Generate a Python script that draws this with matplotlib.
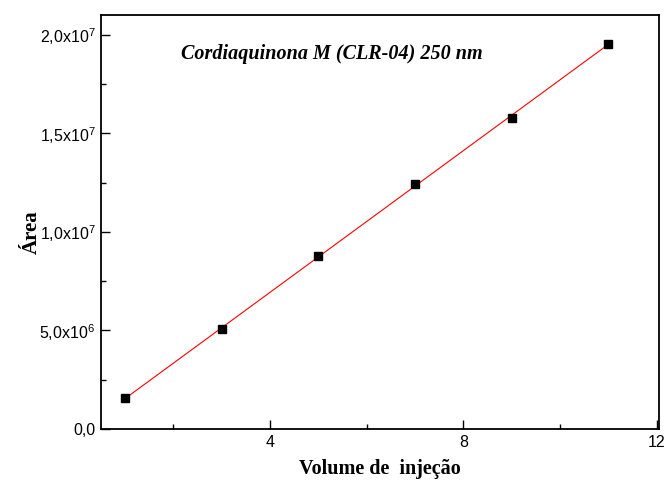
import numpy as np
import matplotlib
matplotlib.use("Agg")
import matplotlib.pyplot as plt
from matplotlib.ticker import FixedLocator, FuncFormatter

# dados
volume = [1, 3, 5, 7, 9, 11]
area = [1.58e6, 5.05e6, 8.76e6, 12.44e6, 15.78e6, 19.55e6]
titulo = "Cordiaquinona M (CLR-04) 250 nm"

plt.rcParams['mathtext.fontset'] = 'custom'
plt.rcParams['mathtext.rm'] = 'Liberation Sans'
plt.rcParams['mathtext.it'] = 'Liberation Sans:italic'

fig = plt.figure(figsize=(6.68, 4.8), dpi=100)
ax = fig.add_axes([101/668, 1-429/480, 558/668, 414/480])

# ajuste linear
a, b = np.polyfit(volume, area, 1)
xf = np.array([volume[0], volume[-1]])
ax.plot(xf, a*xf + b, color='red', lw=0.8, zorder=2)
ax.plot(volume, area, 's', color='black', ms=6.2, zorder=3)

ax.set_xlim(0.5, 12.05)
ax.set_ylim(0, 2.1e7)
ax.xaxis.set_major_locator(FixedLocator([4, 8, 12]))
ax.xaxis.set_minor_locator(FixedLocator([2, 6, 10]))
ax.yaxis.set_major_locator(FixedLocator([0, 5e6, 1e7, 1.5e7, 2e7]))
ax.yaxis.set_minor_locator(FixedLocator([2.5e6, 7.5e6, 1.25e7, 1.75e7]))

def fmt_y(v, pos):
    if v == 0:
        return "0,0"
    e = int(np.floor(np.log10(v)))
    m = v / 10**e
    return ("%.1f" % m).replace(".", ",") + r"x10$^{%d}$" % e

ax.yaxis.set_major_formatter(FuncFormatter(fmt_y))
ax.tick_params(which='major', direction='in', length=6.5, width=1, labelsize=11.5, pad=4)
ax.tick_params(which='minor', direction='in', length=3.5, width=1)
for lab in ax.get_xticklabels() + ax.get_yticklabels():
    lab.set_family('Liberation Sans')
for s in ax.spines.values():
    s.set_linewidth(1.3)

ax.set_xlabel("Volume de  injeção", family='Liberation Serif', fontweight='bold', fontsize=14.5, labelpad=7)
ax.set_ylabel("Área", family='Liberation Serif', fontweight='bold', fontsize=15)
ax.yaxis.set_label_coords(-0.106, 0.476)
ax.text(0.414, 0.906, titulo, transform=ax.transAxes, ha='center', va='center',
        family='Liberation Serif', style='italic', fontweight='bold', fontsize=14.5)

fig.savefig("out.png", dpi=100)
